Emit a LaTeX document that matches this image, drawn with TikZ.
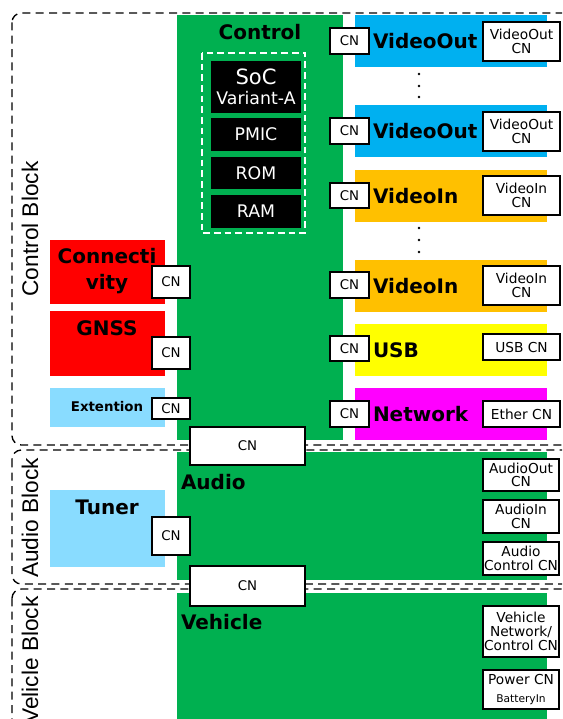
\documentclass[tikz,border=0pt]{standalone}
\usepackage{fontspec}
\setmainfont{DejaVu Sans}
\newfontfamily\labfont{Liberation Sans}
\definecolor{greenC}{HTML}{00B050}
\definecolor{cyanC}{HTML}{00B0F0}
\definecolor{orangeC}{HTML}{FFC000}
\definecolor{yellowC}{HTML}{FFFF00}
\definecolor{magentaC}{HTML}{FF00FF}
\definecolor{redC}{HTML}{FF0000}
\definecolor{lblueC}{HTML}{89DCFF}
\newcommand\rbox[7]{\node[#6, anchor=north west, minimum width={(#4-#2)*0.75pt}, minimum height={(#5-#3)*0.75pt}] (#1) at (#2,#3) {#7};}
\tikzset{
  every node/.style={inner sep=0pt, outer sep=0pt},
  fillbox/.style={draw=none, fill=#1},
  cnbox/.style={draw=black, fill=white, line width=1pt, align=center, font=\fontsize{10}{10}\selectfont},
  lblbox/.style={draw=black, fill=white, line width=1pt, align=center, font=\fontsize{10.3}{10.3}\selectfont},
  blackbox/.style={draw=none, fill=black, text=white, align=center, font=\fontsize{13}{15}\selectfont},
  ttl/.style={font=\bfseries\fontsize{15}{19.5}\selectfont, align=center},
  blockborder/.style={draw=black, line width=1pt, dash pattern=on 6pt off 4pt, rounded corners=7pt},
  blocklabel/.style={rotate=90, font=\labfont\fontsize{17}{20}\selectfont},
  dotc/.style={fill=black, draw=none, circle, minimum size=2.2pt}
}
\begin{document}
\begin{tikzpicture}[x=0.75pt, y=-0.75pt]
\useasboundingbox (0,0) rectangle (562,719);
\clip (0,0) rectangle (562,719);
% green areas
\rbox{gControl}{177}{15}{343}{440}{fillbox=greenC}{}
\rbox{gAudio}{177}{452}{547}{580}{fillbox=greenC}{}
\rbox{gVehicle}{177}{593}{547}{740}{fillbox=greenC}{}
% right column colored boxes
\rbox{vo1}{355}{15}{547}{67}{fillbox=cyanC}{}
\rbox{vo2}{355}{105}{547}{157}{fillbox=cyanC}{}
\rbox{vi1}{355}{170}{547}{222}{fillbox=orangeC}{}
\rbox{vi2}{355}{260}{547}{312}{fillbox=orangeC}{}
\rbox{usb}{355}{324}{547}{376}{fillbox=yellowC}{}
\rbox{net}{355}{388}{547}{440}{fillbox=magentaC}{}
% left column
\rbox{conn}{50}{240}{165}{304}{fillbox=redC}{}
\rbox{gnss}{50}{311}{165}{376}{fillbox=redC}{}
\rbox{ext}{50}{388}{165}{427}{fillbox=lblueC}{}
\rbox{tuner}{50}{490}{165}{567}{fillbox=lblueC}{}
% block borders
\draw[blockborder] (12,13) rectangle (640,445);
\draw[blockborder] (12,450) rectangle (640,584);
\draw[blockborder] (12,589) rectangle (640,780);
\node[blocklabel] (lblCtrl) at (30,229) {Control Block};
\node[blocklabel] (lblAudio) at (30,518) {Audio Block};
\node[blocklabel] (lblVeh) at (30,660) {Velicle Block};
% control
\node[ttl] (tControl) at (260,32) {Control};
\draw[white, line width=1pt, dash pattern=on 5pt off 3pt] (202,53) rectangle (305,233);
\rbox{soc}{211}{61}{301}{113}{blackbox}{{\fontsize{15.8}{15}\selectfont SoC}\\Variant-A}
\rbox{pmic}{211}{118}{301}{151}{blackbox}{PMIC}
\rbox{rom}{211}{157}{301}{189}{blackbox}{ROM}
\rbox{ram}{211}{195}{301}{228}{blackbox}{RAM}
% titles
\node[ttl, anchor=west] (tvo1) at (373,41) {VideoOut};
\node[ttl, anchor=west] (tvo2) at (373,131) {VideoOut};
\node[ttl, anchor=west] (tvi1) at (373,196) {VideoIn};
\node[ttl, anchor=west] (tvi2) at (373,286) {VideoIn};
\node[ttl, anchor=west] (tusb) at (373,350) {USB};
\node[ttl, anchor=west] (tnet) at (373,414) {Network};
\node[ttl] (tconn) at (107,271) {Connecti\\vity};
\node[ttl] (tgnss) at (107,328) {GNSS};
\node[ttl, font=\bfseries\fontsize{10}{12}\selectfont] (text) at (107,407) {Extention};
\node[ttl] (ttuner) at (107,507) {Tuner};
\node[ttl, anchor=west] (taudio) at (181,482) {Audio};
\node[ttl, anchor=west] (tveh) at (181,622) {Vehicle};
% dots
\foreach \yy [count=\i] in {74,86,97,228,240,252} \node[dotc] (dot\i) at (419,\yy) {};
% left CNs of right column
\rbox{cvo1}{330}{28}{369}{54}{cnbox}{CN}
\rbox{cvo2}{330}{118}{369}{144}{cnbox}{CN}
\rbox{cvi1}{330}{183}{369}{208}{cnbox}{CN}
\rbox{cvi2}{330}{272}{369}{298}{cnbox}{CN}
\rbox{cusb}{330}{336}{369}{361}{cnbox}{CN}
\rbox{cnet}{330}{401}{369}{427}{cnbox}{CN}
% right CNs
\rbox{xvo1}{483}{22}{560}{61}{lblbox}{VideoOut\\CN}
\rbox{xvo2}{483}{112}{560}{151}{lblbox}{VideoOut\\CN}
\rbox{xvi1}{483}{176}{560}{215}{lblbox}{VideoIn\\CN}
\rbox{xvi2}{483}{266}{560}{305}{lblbox}{VideoIn\\CN}
\rbox{xusb}{483}{334}{560}{360}{lblbox}{USB CN}
\rbox{xeth}{483}{401}{560}{427}{lblbox}{Ether CN}
% left CNs
\rbox{cconn}{152}{266}{190}{298}{cnbox}{CN}
\rbox{cgnss}{152}{337}{190}{369}{cnbox}{CN}
\rbox{cext}{152}{398}{190}{419}{cnbox}{CN}
\rbox{ctuner}{152}{517}{190}{555}{cnbox}{CN}
% bridge CNs
\rbox{bridge1}{190}{427}{305}{465}{cnbox}{CN}
\rbox{bridge2}{190}{566}{305}{606}{cnbox}{CN}
% audio CNs
\rbox{xaout}{483}{459}{559}{491}{lblbox}{AudioOut\\CN}
\rbox{xain}{483}{500}{559}{533}{lblbox}{AudioIn\\CN}
\rbox{xactl}{483}{542}{559}{575}{lblbox}{Audio\\Control CN}
% vehicle CNs
\rbox{xvnet}{483}{606}{559}{657}{lblbox}{Vehicle\\Network/\\Control CN}
\rbox{xpow}{483}{670}{559}{709}{lblbox, font=\fontsize{10.3}{13}\selectfont}{Power CN\\{\fontsize{8}{8}\selectfont BatteryIn}}
\end{tikzpicture}
\end{document}
